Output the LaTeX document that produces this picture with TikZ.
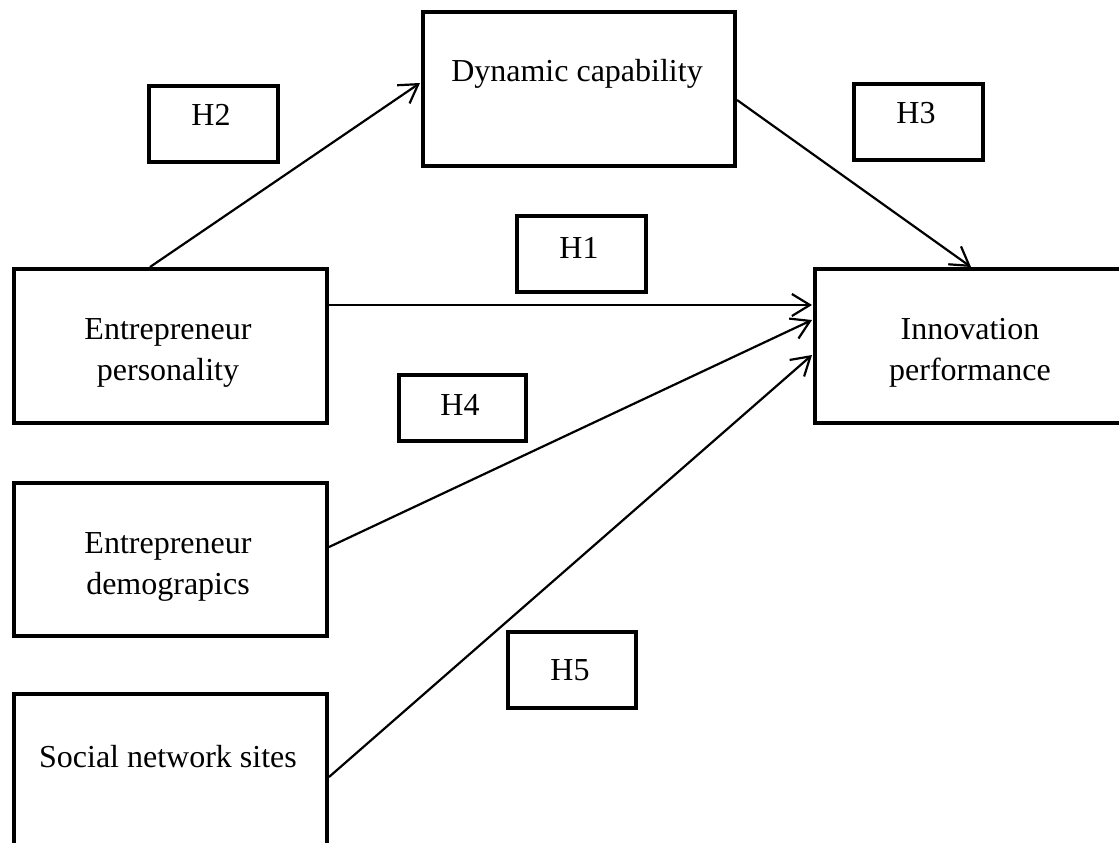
\documentclass[tikz,border=0pt]{standalone}
\usepackage{fontspec}
\setmainfont{Liberation Serif}
\usetikzlibrary{arrows.meta,calc}
\begin{document}
\begin{tikzpicture}[x=1pt,y=-1pt,
  box/.style={draw, line width=4pt, rectangle, inner sep=0pt, anchor=north west},
  lbl/.style={font=\fontsize{32}{41}\selectfont, align=center, inner sep=0pt},
  conn/.style={line width=2.2pt, -{Straight Barb[length=18pt,width=22pt]}}]
\useasboundingbox (0,0) rectangle (1119,843);
\clip (0,0) rectangle (1119,843);
% main boxes
\node[box, minimum width=312pt, minimum height=154pt] (dc) at (421,10) {};
\node[box, minimum width=313pt, minimum height=154pt] (ep) at (12,267) {};
\node[box, minimum width=313pt, minimum height=153pt] (ed) at (12,481) {};
\node[box, minimum width=313pt, minimum height=170pt] (sn) at (12,692) {};
\node[box, minimum width=314pt, minimum height=154pt] (ip) at (813,267) {};
\node[lbl] (dct) at (577,74) {Dynamic capability};
\node[lbl] (ept) at (168,353) {Entrepreneur\\personality};
\node[lbl] (edt) at (168,567) {Entrepreneur\\demograpics};
\node[lbl] (snt) at (168,757) {Social network sites};
\node[lbl] (ipt) at (970,353) {Innovation\\performance};
% hypothesis boxes
\node[box, minimum width=129pt, minimum height=76pt] (h2) at (147,84) {};
\node[box, minimum width=129pt, minimum height=76pt] (h3) at (852,82) {};
\node[box, minimum width=129pt, minimum height=76pt] (h1) at (515,214) {};
\node[box, minimum width=127pt, minimum height=66pt] (h4) at (397,373) {};
\node[box, minimum width=128pt, minimum height=76pt] (h5) at (506,630) {};
\node[lbl] (h2t) at (211,115) {H2};
\node[lbl] (h3t) at (916,113) {H3};
\node[lbl] (h1t) at (579,248) {H1};
\node[lbl] (h4t) at (460,405) {H4};
\node[lbl] (h5t) at (570,670) {H5};
% connectors
\draw[conn] ($(ep.north west)+(138,0)$) -- ($(dc.north west)+(-1,73)$);
\draw[conn] ($(dc.north east)+(0,90)$) -- ($(ip.north west)+(158,0)$);
\draw[conn] ($(ep.north east)+(0,38)$) -- ($(ip.north west)+(-1,38)$);
\draw[conn] ($(ed.north east)+(0,66)$) -- ($(ip.north west)+(-1,53)$);
\draw[conn] ($(sn.north east)+(0,85)$) -- ($(ip.north west)+(-1,88)$);
\end{tikzpicture}
\end{document}
